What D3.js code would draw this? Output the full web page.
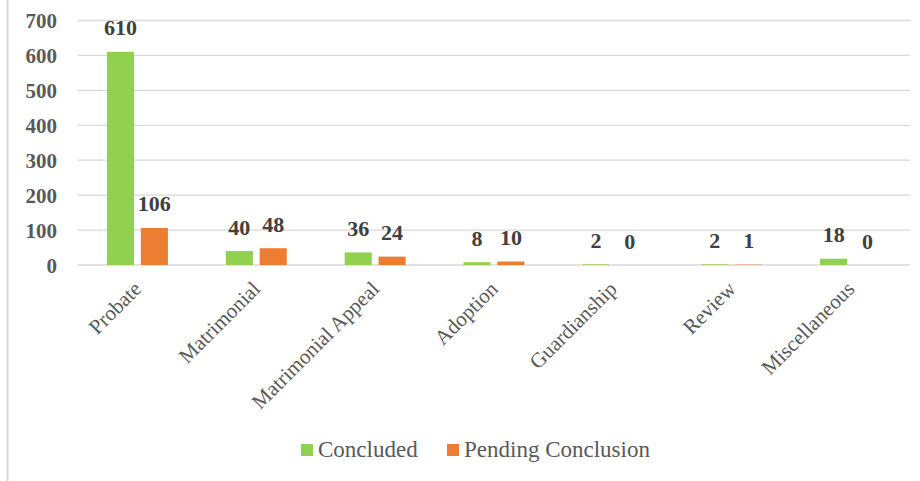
<!DOCTYPE html>
<html>
<head>
<meta charset="utf-8">
<script src="https://cdn.jsdelivr.net/npm/d3@7"></script>
<style>
  html, body { margin: 0; padding: 0; background: #fff; }
  svg { display: block; }
  svg text { font-family: 'Liberation Serif', 'Times New Roman', serif; }
</style>
</head>
<body>
<svg id="chart" width="920" height="481"></svg>
<script>
(function () {
  'use strict';

  // Data
  const categories = ['Probate', 'Matrimonial', 'Matrimonial Appeal', 'Adoption', 'Guardianship', 'Review', 'Miscellaneous'];
  const concluded = [610, 40, 36, 8, 2, 2, 18];
  const pending = [106, 48, 24, 10, 0, 1, 0];
  const seriesNames = ['Concluded', 'Pending Conclusion'];
  const yTicks = [0, 100, 200, 300, 400, 500, 600, 700];

  const COLORS = {
    concluded: '#92d050',
    pending:   '#ed7d31',
    grid:      '#d9d9d9',
    axisText:  '#595959',
    label:     '#404040',
  };

  const width = 920, height = 481;
  const margin = { top: 20.5, right: 10, bottom: 216, left: 78 };

  const svg = d3.select('#chart');

  // Frame edge on the left
  svg.append('line')
    .attr('x1', 7.5).attr('x2', 7.5)
    .attr('y1', 0).attr('y2', height)
    .attr('stroke', COLORS.grid)
    .attr('stroke-width', 2);

  const y = d3.scaleLinear()
    .domain([0, 700])
    .range([height - margin.bottom, margin.top]);

  const x0 = d3.scaleBand()
    .domain(categories)
    .range([margin.left, width - margin.right])
    .paddingInner(0.487)
    .paddingOuter(0.2435);

  const x1 = d3.scaleBand()
    .domain(seriesNames)
    .range([0, x0.bandwidth()])
    .paddingInner(0.2);

  // Gridlines
  svg.append('g')
    .selectAll('line')
    .data(yTicks)
    .enter().append('line')
    .attr('x1', margin.left)
    .attr('x2', width - margin.right)
    .attr('y1', d => y(d))
    .attr('y2', d => y(d))
    .attr('stroke', COLORS.grid)
    .attr('stroke-width', 1.3);

  // Y axis labels
  const yAxis = d3.axisLeft(y).tickValues(yTicks).tickSize(0).tickPadding(21);
  const gy = svg.append('g')
    .attr('transform', `translate(${margin.left},0)`)
    .call(yAxis);
  gy.select('.domain').remove();
  gy.attr('font-family', null);
  gy.selectAll('text')
    .style('font-size', '21px')
    .style('font-weight', 'bold')
    .attr('fill', COLORS.axisText)
    .attr('dy', '0.35em');

  // Bars
  const rows = categories.map((c, i) => ({
    cat: c,
    values: [
      { name: seriesNames[0], value: concluded[i], color: COLORS.concluded },
      { name: seriesNames[1], value: pending[i], color: COLORS.pending },
    ],
  }));

  const groups = svg.append('g')
    .selectAll('g')
    .data(rows)
    .enter().append('g')
    .attr('transform', d => `translate(${x0(d.cat)},0)`);

  groups.selectAll('rect')
    .data(d => d.values)
    .enter().append('rect')
    .attr('x', d => x1(d.name))
    .attr('width', x1.bandwidth())
    .attr('y', d => y(d.value))
    .attr('height', d => y(0) - y(d.value))
    .attr('fill', d => d.color);

  groups.selectAll('text')
    .data(d => d.values)
    .enter().append('text')
    .attr('x', d => x1(d.name) + x1.bandwidth() / 2)
    .attr('y', d => y(d.value) - 16.5)
    .attr('text-anchor', 'middle')
    .style('font-size', '22px')
    .style('font-weight', 'bold')
    .attr('fill', COLORS.label)
    .text(d => d.value);

  // X axis labels (rotated)
  svg.append('g')
    .selectAll('text')
    .data(categories)
    .enter().append('text')
    .attr('transform', d => `translate(${x0(d) + x0.bandwidth() / 2},${y(0) + 20}) rotate(-45)`)
    .attr('text-anchor', 'end')
    .attr('dy', '0.35em')
    .style('font-size', '21px')
    .attr('fill', COLORS.axisText)
    .text(d => d);

  // Legend
  const legendItems = [
    { name: seriesNames[0], color: COLORS.concluded, x: 301 },
    { name: seriesNames[1], color: COLORS.pending, x: 447 },
  ];
  const legend = svg.append('g')
    .selectAll('g')
    .data(legendItems)
    .enter().append('g')
    .attr('transform', d => `translate(${d.x},444)`);
  legend.append('rect')
    .attr('width', 12).attr('height', 12)
    .attr('fill', d => d.color);
  legend.append('text')
    .attr('x', 17)
    .attr('y', 13)
    .style('font-size', '23px')
    .attr('fill', COLORS.axisText)
    .text(d => d.name);
})();
</script>
</body>
</html>
